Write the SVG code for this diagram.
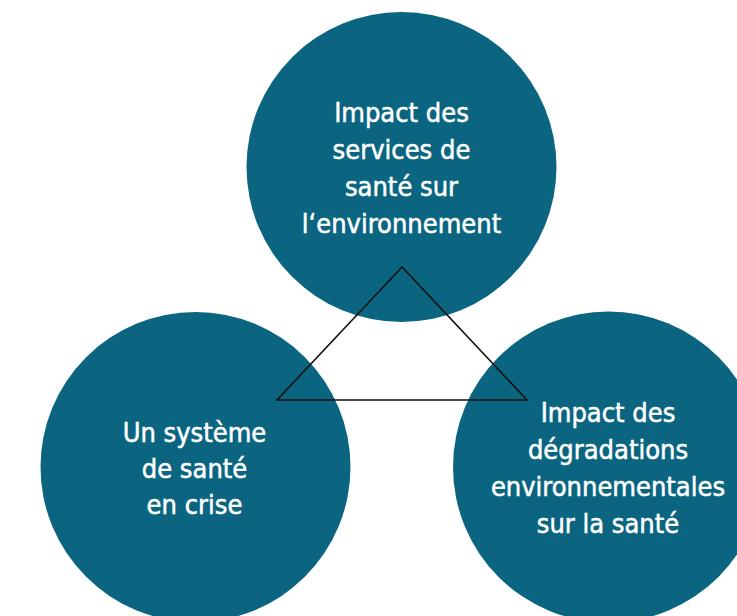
<svg xmlns="http://www.w3.org/2000/svg" width="737" height="616" viewBox="0 0 737 616">
<style>
.node circle{fill:#0b6581}
.lbl{font-family:"DejaVu Sans Condensed","DejaVu Sans",sans-serif;font-size:27px;fill:#ffffff;stroke:#ffffff;stroke-width:0.5;text-anchor:middle}
.edge{fill:none;stroke:#111111;stroke-width:1.6;stroke-linejoin:miter}
</style>
<rect width="737" height="616" fill="#ffffff"/>
<g id="node-top" class="node">
<circle cx="401.5" cy="167" r="155"/>
<text class="lbl"><tspan x="401.5" y="122">Impact des</tspan><tspan x="401.5" y="159">services de</tspan><tspan x="401.5" y="196">santé sur</tspan><tspan x="401.5" y="233">l‘environnement</tspan></text>
</g>
<g id="node-left" class="node">
<circle cx="195.5" cy="467" r="155"/>
<text class="lbl"><tspan x="194.5" y="442">Un système</tspan><tspan x="194.5" y="478">de santé</tspan><tspan x="194.5" y="514">en crise</tspan></text>
</g>
<g id="node-right" class="node">
<circle cx="608.5" cy="467" r="155.5"/>
<text class="lbl"><tspan x="608" y="422">Impact des</tspan><tspan x="608" y="459">dégradations</tspan><tspan x="608" y="496">environnementales</tspan><tspan x="608" y="533">sur la santé</tspan></text>
</g>
<g id="connectors">
<polygon class="edge" points="402,267 277,400 527,400"/>
</g>
</svg>
